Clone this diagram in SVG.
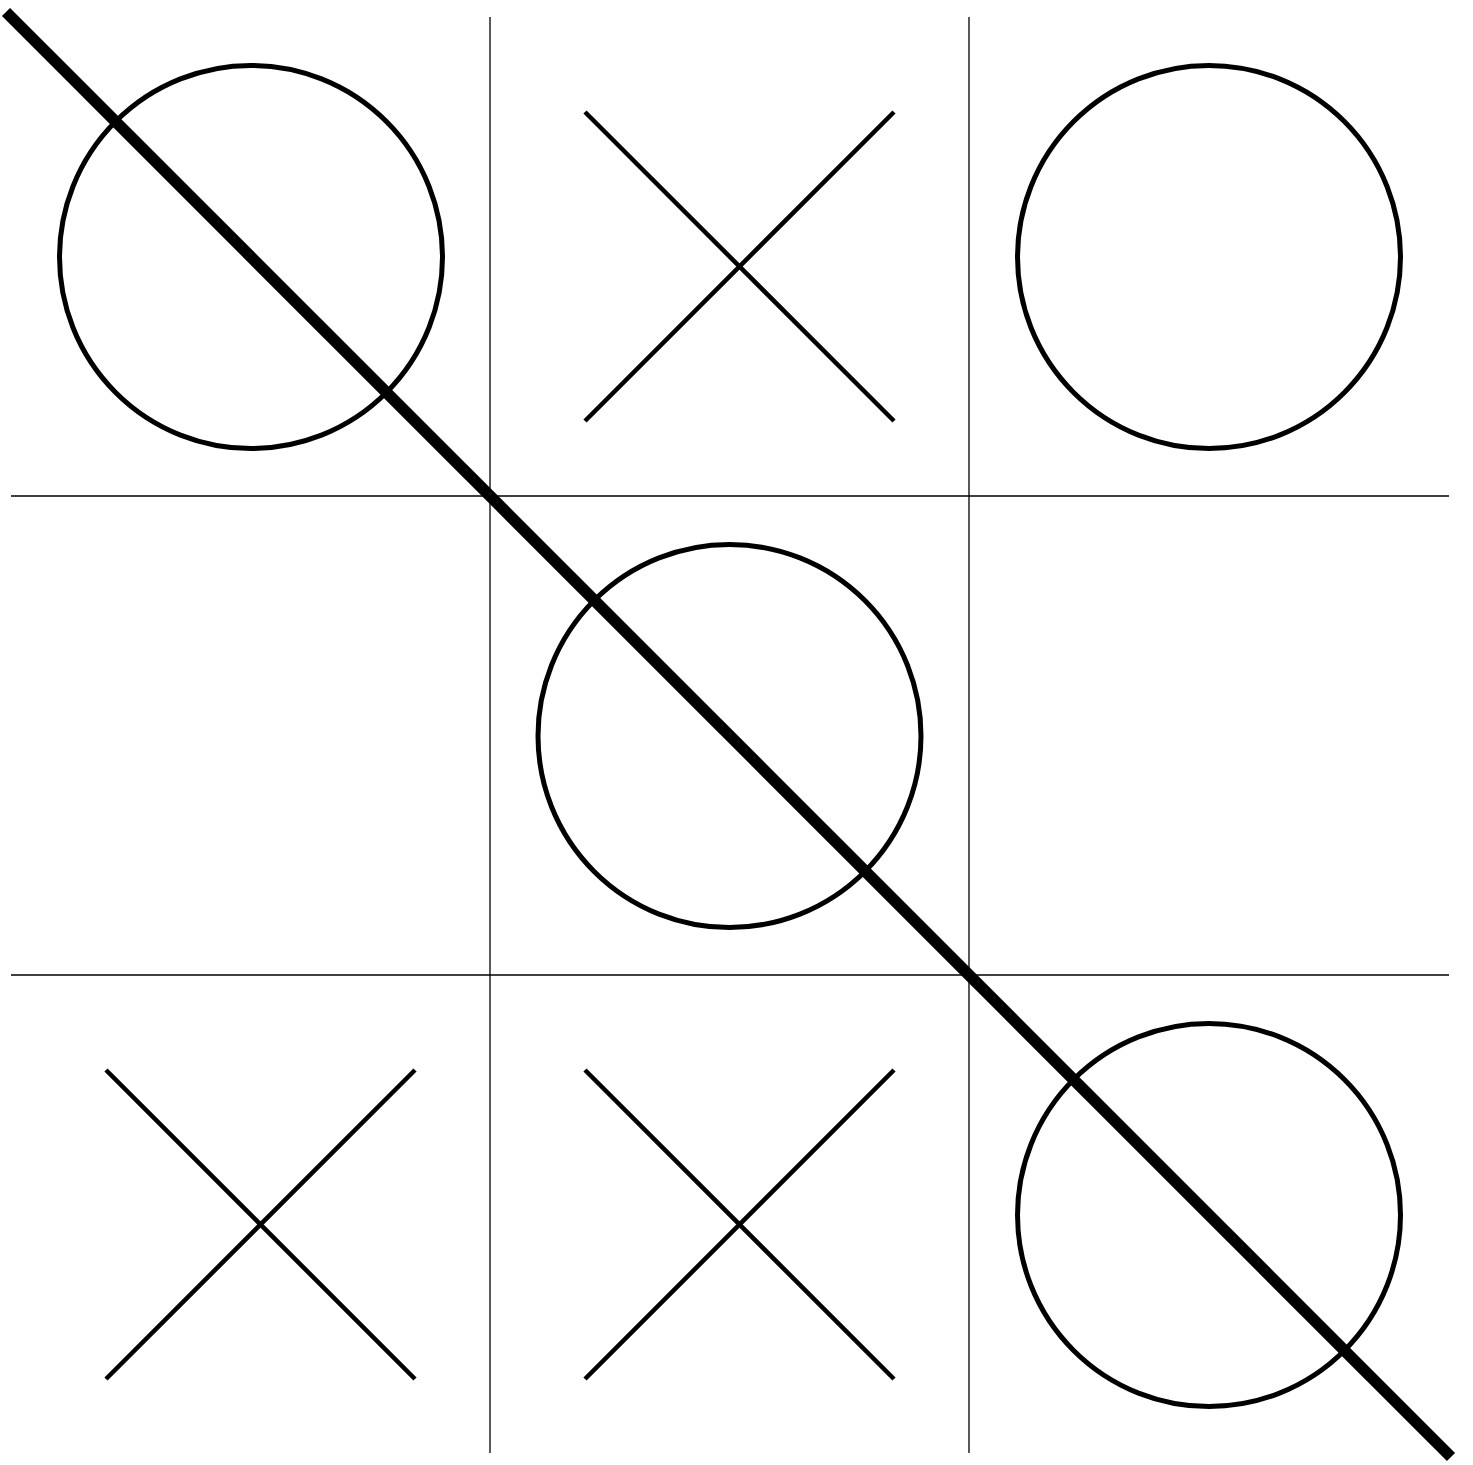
<svg xmlns="http://www.w3.org/2000/svg" width="1473" height="1465" viewBox="0 0 1473 1465">
<style>
.grid{stroke:#000;stroke-width:1.3;fill:none}
.o{stroke:#000;stroke-width:5;fill:none}
.x{stroke:#000;stroke-width:4.5;fill:none;stroke-linecap:butt}
.win{stroke:#000;stroke-width:11.5;fill:none;stroke-linecap:butt}
</style>
<rect width="1473" height="1465" fill="#fff"/>
<g id="grid">
<line class="grid" x1="490" y1="17" x2="490" y2="1453"/>
<line class="grid" x1="969" y1="17" x2="969" y2="1453"/>
<line class="grid" x1="11" y1="496" x2="1449" y2="496"/>
<line class="grid" x1="11" y1="975" x2="1449" y2="975"/>
</g>
<g id="cell-0-0"><circle class="o" cx="251" cy="257" r="191.5"/></g>
<g id="cell-0-1"><path class="x" d="M585 112 L894 421 M894 112 L585 421"/></g>
<g id="cell-0-2"><circle class="o" cx="1209" cy="257" r="191.5"/></g>
<g id="cell-1-1"><circle class="o" cx="729.5" cy="736" r="191.5"/></g>
<g id="cell-2-0"><path class="x" d="M106 1070 L415 1379 M415 1070 L106 1379"/></g>
<g id="cell-2-1"><path class="x" d="M585 1070 L894 1379 M894 1070 L585 1379"/></g>
<g id="cell-2-2"><circle class="o" cx="1209" cy="1215" r="191.5"/></g>
<g id="connectors">
<line class="win" x1="6" y1="12" x2="1451" y2="1457"/>
</g>
</svg>
